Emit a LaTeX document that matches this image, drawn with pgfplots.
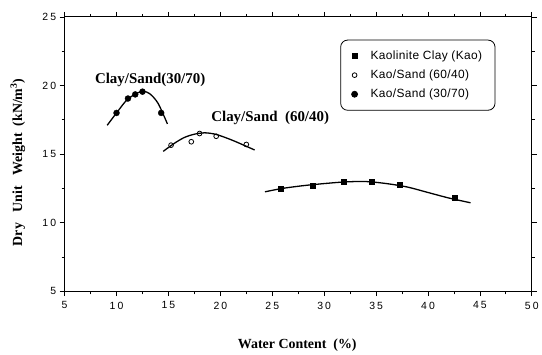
\documentclass[border=0pt]{standalone}
\usepackage{fontspec}
\setmainfont{Liberation Serif}
\newfontfamily\sansf[LetterSpace=3]{Liberation Sans}
\newfontfamily\tickf[LetterSpace=20]{Liberation Sans}
\usepackage{pgfplots}
\pgfplotsset{compat=1.18}
\begin{document}
\begin{tikzpicture}
\begin{axis}[
  name=ax,
  scale only axis, width=470pt, height=276pt,
  xmin=5, xmax=50, ymin=5, ymax=25,
  xtick={5,10,...,50}, ytick={5,10,...,25},
  minor x tick num=1, minor y tick num=1,
  tick align=outside, tick pos=both,
  major tick length=5pt, minor tick length=3pt,
  axis line style={line width=1pt},
  every tick/.style={black, line width=0.8pt},
  /pgf/number format/assume math mode=true,
  tick label style={font=\tickf\fontsize{10.5}{12}\selectfont},
  xticklabel style={yshift=-2pt},
  xlabel={\bfseries Water Content\ \ (\%)},
  ylabel={\bfseries Dry\ \ \ Unit\ \ \ Weight\ \ (kN/m$^{\mathbf{3}}$)},
  label style={font=\fontsize{14}{16}\selectfont},
  xlabel style={at={(axis description cs:0.498,-0.197)}, anchor=center},
  ylabel style={at={(axis description cs:-0.1,0.47)}, anchor=center},
  legend style={at={(0.59,0.917)}, anchor=north west, rounded corners=7pt,
    draw=black, line width=0.8pt, font=\sansf\fontsize{12}{14}\selectfont,
    inner xsep=11pt, inner ysep=9pt, row sep=5pt},
  legend cell align=left,
]
% measured points
\addplot[only marks, mark=square*, mark size=2.6pt, black] coordinates {
 (25.8,12.46) (28.9,12.68) (31.9,12.97) (34.6,12.97) (37.3,12.75) (42.6,11.8)};
\addlegendentry{\ \ \ Kaolinite Clay (Kao)}
\addplot[only marks, mark=o, mark size=2.4pt, black, thick] coordinates {
 (15.25,15.65) (17.2,15.9) (18.0,16.5) (19.6,16.3) (22.5,15.7)};
\addlegendentry{\ \ \ Kao/Sand (60/40)}
\addplot[only marks, mark=*, mark size=3pt, black] coordinates {
 (10.0,18.0) (11.1,19.05) (11.8,19.35) (12.5,19.55) (14.3,18.0)};
\addlegendentry{\ \ \ Kao/Sand (30/70)}
% fitted curves
\addplot[smooth, black, line width=1.3pt, forget plot] coordinates {
 (9.1,17.1) (10,18.0) (11,18.95) (12,19.45) (12.6,19.57) (13.2,19.4) (14,18.7) (14.9,17.2)};
\addplot[smooth, black, line width=1.3pt, forget plot] coordinates {
 (14.5,15.2) (15.5,15.75) (16.5,16.2) (17.5,16.45) (18.5,16.55) (19.5,16.45) (20.5,16.2) (21.5,15.9) (23.3,15.3)};
\addplot[smooth, black, line width=1.3pt, forget plot] coordinates {
 (24.3,12.25) (26,12.5) (28,12.7) (30,12.85) (32,12.97) (34,13.0) (36,12.85) (38,12.6) (40,12.2) (42,11.8) (44.1,11.45)};
\node[font=\bfseries\fontsize{15}{17}\selectfont] at (axis cs:13.24,20.43) {Clay/Sand(30/70)};
\node[font=\bfseries\fontsize{15}{17}\selectfont] at (axis cs:24.8,17.6) {Clay/Sand\ \ (60/40)};
\end{axis}
\path ([shift={(-65pt,-64pt)}]ax.south west) rectangle ([shift={(7pt,17pt)}]ax.north east);
\end{tikzpicture}
\end{document}
